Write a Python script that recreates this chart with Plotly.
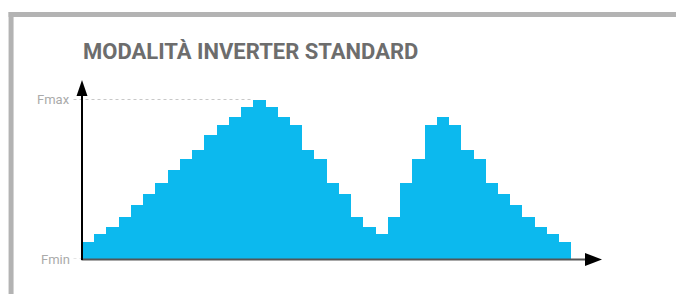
import plotly.graph_objects as go

# ---- data (values as % between Fmin=0 and Fmax=100) ----
steps = list(range(1, 41))
frequency = [10.6, 15.6, 20.0, 26.3, 33.8, 40.6, 47.5, 55.6, 62.5, 68.1,
             77.5, 83.8, 88.8, 95.0, 100.0, 95.0, 88.8, 83.8, 68.1, 62.5,
             47.5, 40.6, 26.3, 20.0, 15.6, 26.3, 47.5, 62.5, 83.8, 88.8,
             83.8, 68.1, 62.5, 47.5, 40.6, 33.8, 26.3, 20.0, 15.6, 10.6]
tick_vals = [0, 100]
tick_text = ["Fmin", "Fmax"]
title_text = "MODALITÀ INVERTER STANDARD"

OFF = 8  # browser body margin
WIN_W, WIN_H = 684, 294
W, H = WIN_W - OFF, WIN_H - OFF
# page-pixel geometry of plot area
PL, PR, PT, PB = 81.5, 602, 80, 259
L, T = PL - OFF, PT - OFF
R, B = W - (PR - OFF), H - (PB - OFF)
pw, ph = W - L - R, H - T - B

def px(x):
    return (x - PL) / pw

def py(y):
    return (PB - y) / ph

x_max = 42.5
y_max = 100 * (PB - PT) / (PB - 99.5)

fig = go.Figure()
fig.add_trace(go.Bar(
    x=[s - 0.5 for s in steps], y=frequency, width=1.0,
    marker=dict(color="#0cb9ee", line=dict(width=0)),
    hoverinfo="skip", showlegend=False,
))

peak_idx = frequency.index(max(frequency))
peak_left_paper = (steps[peak_idx] - 1) / x_max

shapes = [
    # frame
    dict(type="rect", xref="paper", yref="paper", x0=px(8), x1=px(WIN_W + 5), y0=py(17), y1=py(12),
         fillcolor="#b3b3b3", line=dict(width=0), layer="above"),
    dict(type="rect", xref="paper", yref="paper", x0=px(8), x1=px(13), y0=py(WIN_H + 5), y1=py(12),
         fillcolor="#b3b3b3", line=dict(width=0), layer="above"),
    # dotted Fmax guide
    dict(type="line", xref="paper", yref="y", x0=px(73), y0=100, x1=peak_left_paper, y1=100,
         line=dict(color="#c8c8c8", width=1, dash="dot"), layer="below"),
    # dotted Fmin guide
    dict(type="line", xref="paper", yref="y", x0=px(73), y0=0, x1=px(81), y1=0,
         line=dict(color="#c8c8c8", width=1, dash="dot"), layer="below"),
    # x axis line
    dict(type="line", xref="paper", yref="paper", x0=px(81), y0=py(259.5), x1=px(588), y1=py(259.5),
         line=dict(color="#555555", width=2), layer="above"),
    # y axis line
    dict(type="line", xref="paper", yref="paper", x0=px(81.5), y0=py(260), x1=px(81.5), y1=py(94),
         line=dict(color="#000000", width=2), layer="above"),
    # x arrow head
    dict(type="path", xref="paper", yref="paper",
         path=f"M {px(585)} {py(253)} L {px(602)} {py(259.5)} L {px(585)} {py(266)} Z",
         fillcolor="#000000", line=dict(width=0), layer="above"),
    # y arrow head
    dict(type="path", xref="paper", yref="paper",
         path=f"M {px(76)} {py(96)} L {px(81.5)} {py(80)} L {px(87)} {py(96)} Z",
         fillcolor="#000000", line=dict(width=0), layer="above"),
]

annotations = [
    dict(text=title_text, xref="paper", yref="paper", x=px(80), y=py(52),
         xanchor="left", yanchor="middle", showarrow=False,
         font=dict(family="Roboto", size=22, color="#6d6d6d", weight="bold")),
]
for v, t in zip(tick_vals, tick_text):
    annotations.append(dict(text=t, xref="paper", yref="y", x=px(71), y=v,
                            xanchor="right", yanchor="middle", showarrow=False,
                            font=dict(family="Roboto", size=13, color="#aaaaaa")))

fig.update_layout(
    width=W, height=H,
    margin=dict(l=L, r=R, t=T, b=B, pad=0),
    paper_bgcolor="white", plot_bgcolor="white",
    bargap=0,
    xaxis=dict(range=[0, x_max], visible=False, fixedrange=True),
    yaxis=dict(range=[0, y_max], visible=False, fixedrange=True),
    shapes=shapes, annotations=annotations,
)

fig.write_html("out.html")
